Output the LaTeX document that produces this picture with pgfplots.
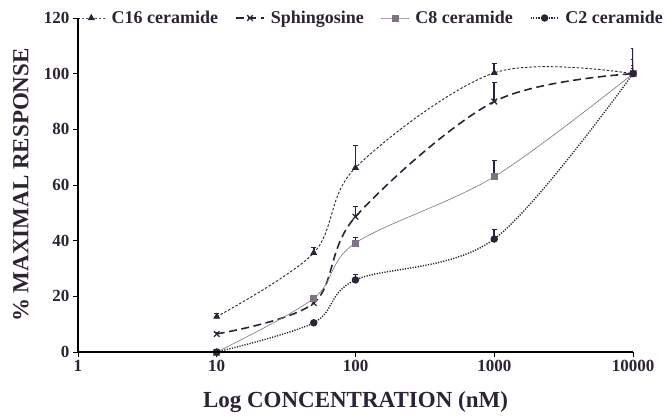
\documentclass[border=0pt]{standalone}
\usepackage{fontspec}
\setmainfont{Liberation Serif}
\usepackage{pgfplots}
\pgfplotsset{compat=1.18}
\definecolor{ink}{RGB}{45,35,55}
\definecolor{c8gray}{RGB}{125,115,130}
\begin{document}
\begin{tikzpicture}
\begin{axis}[
  scale only axis,
  width=555pt, height=334pt,
  xmode=log, xmin=1, xmax=10000,
  ymin=0, ymax=120,
  xtick={1,10,100,1000,10000},
  xticklabels={1,10,100,1000,10000},
  ytick={0,20,40,60,80,100,120},
  xminorticks=false, yminorticks=false,
  axis x line=bottom, axis y line=left,
  axis line style={-, black, line width=1.2pt},
  tick style={black, line width=0.9pt},
  tick align=outside, major tick length=5pt,
  /pgf/number format/assume math mode=true,
  ticklabel style={font=\fontsize{17}{17}\selectfont\bfseries, text=ink},
  xlabel={Log CONCENTRATION (nM)},
  ylabel={\% MAXIMAL RESPONSE},
  label style={font=\fontsize{23}{23}\selectfont\bfseries, text=ink},
  xlabel style={at={(axis description cs:0.5,0)}, anchor=center, yshift=-50pt},
  ylabel style={at={(axis description cs:0,0.5)}, anchor=center, rotate=0, yshift=57pt},
  legend columns=4,
  legend style={at={(1.063,1.0)}, anchor=east, draw=none, fill=none,
    font=\fontsize{18}{18}\selectfont\bfseries, text=ink,
    /tikz/every odd column/.append style={column sep=4pt},
    /tikz/every even column/.append style={column sep=15pt}},
  legend cell align=left,
  legend image code/.code={\draw[mark repeat=2,mark phase=2] plot coordinates {(0pt,0pt) (14pt,0pt) (28pt,0pt)};},
  error bars/y dir=plus, error bars/y explicit,
  error bars/error mark=-,
  error bars/error mark options={ink, line width=1.2pt, mark size=2.5pt, rotate=90},
  error bars/error bar style={ink, solid, line width=1.6pt},
]
\addplot[ink, line width=0.9pt, dash pattern=on 2.5pt off 1.8pt, smooth, tension=0.55,
  mark=triangle*, mark size=3.2pt, mark options={solid, fill=ink}]
  coordinates {(10,12.7) +- (0,1.0) (50,35.6) +- (0,2.0) (100,66.2) +- (0,8.0) (1000,100.3) +- (0,3.3) (10000,100) +- (0,9.0)};
\addlegendentry{C16 ceramide}
\addplot[ink, line width=1.6pt, dash pattern=on 8pt off 4.5pt, smooth, tension=0.55,
  mark=x, mark size=4pt, mark options={solid, line width=1.2pt}]
  coordinates {(10,6.5) +- (0,0.5) (50,17.6) +- (0,0.5) (100,48.6) +- (0,3.8) (1000,90) +- (0,6.8) (10000,100) +- (0,5.0)};
\addlegendentry{Sphingosine}
\addplot[c8gray, line width=0.6pt, smooth, tension=0.55,
  mark=square*, mark size=3pt, mark options={solid, fill=c8gray}]
  coordinates {(10,0) +- (0,0) (50,19.3) +- (0,0.5) (100,39.2) +- (0,2.0) (1000,63) +- (0,5.8) (10000,100) +- (0,3.0)};
\addlegendentry{C8 ceramide}
\addplot[ink, line width=1.4pt, dash pattern=on 1.2pt off 1.4pt, smooth, tension=0.55,
  mark=*, mark size=3pt, mark options={solid, fill=ink}]
  coordinates {(10,0) +- (0,0) (50,10.5) +- (0,0.5) (100,25.9) +- (0,2.0) (1000,40.6) +- (0,3.3) (10000,100) +- (0,2.0)};
\addlegendentry{C2 ceramide}
\end{axis}
\draw[black, line width=1.2pt] (current axis.north west) -- (current axis.south west) -- (current axis.south east);
\path ([shift={(-78pt,-66pt)}]current axis.south west) rectangle ([shift={(39pt,18pt)}]current axis.north east);
\end{tikzpicture}
\end{document}
